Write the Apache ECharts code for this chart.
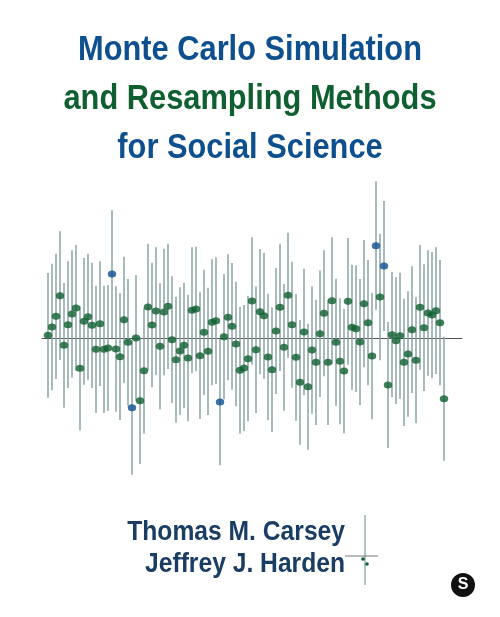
<!DOCTYPE html>
<html>
<head>
<meta charset="utf-8">
<script src="https://cdn.jsdelivr.net/npm/echarts@6/dist/echarts.min.js"></script>
<style>html,body{margin:0;padding:0;background:#fff}#chart{width:500px;height:617px}</style>
</head>
<body>
<div id="chart"></div>
<script>
// estimates, in units of 1/3 px relative to the zero line
const estimates = [
  8, 33, 65, 127, -22, 40, 72, 90, -91, 50, 64, 38, -34, 43, -34, -30, 192, -33, -56, 55,
  -13, -209, 0, -188, -98, 93, 39, 81, -25, 78, 95, -5, -65, -39, -22, -60, 83, 87, -53, 17,
  -40, 47, 52, -192, 4, 62, 35, -18,
  -97, -90, -62, 111, -35, 79, 67, -57, -95, 21, 92, -28, 128, 40, -58, -133, 18, -146, -36, -73,
  13, 74, -73, 112, -13, -70, -99, 110, 32, 28, -12, 103, 46, -54, 277, 123, 216, -141, 10, -8,
  7, -73, -48, 25, -67, 92, 31, 75, 69, 82, 46, -182
];
const halfWidths = [
  187, 190, 188, 193, 187, 190, 191, 189, 186, 190, 189, 188, 190, 187, 191, 189, 191, 188, 190, 189,
  190, 201, 188, 190, 189, 190, 187, 191, 189, 190, 188, 190, 189, 191, 188, 190, 189, 187, 190, 188,
  191, 189, 190, 190, 188, 189, 190, 187,
  190, 189, 188, 191, 190, 188, 189, 190, 187, 189, 191, 190, 188, 189, 190, 187, 190, 189, 191, 188,
  190, 189, 188, 190, 191, 189, 187, 190, 188, 190, 189, 191, 188, 190, 193, 190, 195, 189, 188, 190,
  189, 191, 188, 190, 189, 187, 190, 188, 189, 190, 188, 186
];
const titleLines = ['Monte Carlo Simulation', 'and Resampling Methods', 'for Social Science'];
const authors = ['Thomas M. Carsey', 'Jeffrey J. Harden'];

const BLUE = '#0e4f8e', GREEN = '#0f5f30', BAR = '#8aa6a3';
const idx = estimates.map((_, i) => i);
const missesZero = i => Math.abs(estimates[i]) > halfWidths[i];

const chart = echarts.init(document.getElementById('chart'));
const font = '"Liberation Sans", Arial, sans-serif';
chart.setOption({
  animation: false,
  grid: { left: 42, top: 188, width: 420, height: 300 },
  xAxis: {
    type: 'value', min: -1.5, max: 103.5,
    axisLine: { show: true, onZero: true, lineStyle: { color: '#555', width: 1.2 } },
    axisTick: { show: false }, axisLabel: { show: false }, splitLine: { show: false }
  },
  yAxis: {
    type: 'value', min: -450, max: 450, show: false
  },
  series: [{
    type: 'custom',
    data: idx.map(i => [i, estimates[i] - halfWidths[i], estimates[i] + halfWidths[i]]),
    renderItem: (params, api) => {
      const lo = api.coord([api.value(0), api.value(1)]);
      const hi = api.coord([api.value(0), api.value(2)]);
      return { type: 'line', shape: { x1: lo[0], y1: lo[1], x2: hi[0], y2: hi[1] },
        style: { stroke: BAR, lineWidth: 1.5 } };
    },
    z: 1
  }, {
    type: 'scatter',
    symbolSize: [8.5, 7],
    data: idx.map(i => ({ value: [i, estimates[i]], itemStyle: { color: missesZero(i) || i === 16 ? BLUE : GREEN } })),
    z: 3
  }],
  graphic: [
    ...titleLines.map((t, i) => ({
      type: 'text', x: 250, y: 50 + i * 49, scaleX: 0.88,
      style: { text: t, font: 'bold 35px ' + font, fill: i === 1 ? GREEN : BLUE, align: 'center', verticalAlign: 'middle' }
    })),
    ...authors.map((t, i) => ({
      type: 'text', x: 345, y: 532 + i * 32, scaleX: 0.88,
      style: { text: t, font: 'bold 28px ' + font, fill: '#1a3d63', align: 'right', verticalAlign: 'middle' }
    })),
    { type: 'line', shape: { x1: 365, y1: 515, x2: 365, y2: 585 }, style: { stroke: BAR, lineWidth: 1.3 } },
    { type: 'line', shape: { x1: 345, y1: 556, x2: 378, y2: 556 }, style: { stroke: '#777', lineWidth: 1 } },
    { type: 'circle', shape: { cx: 363, cy: 559, r: 1.8 }, style: { fill: GREEN } },
    { type: 'circle', shape: { cx: 367, cy: 564, r: 1.8 }, style: { fill: GREEN } },
    { type: 'circle', shape: { cx: 463, cy: 585, r: 12 }, style: { fill: '#111' } },
    { type: 'text', x: 463, y: 585, style: { text: 'S', font: 'bold 16px ' + font, fill: '#fff', align: 'center', verticalAlign: 'middle' } }
  ]
});
window.addEventListener('resize', () => chart.resize());
</script>
</body>
</html>
